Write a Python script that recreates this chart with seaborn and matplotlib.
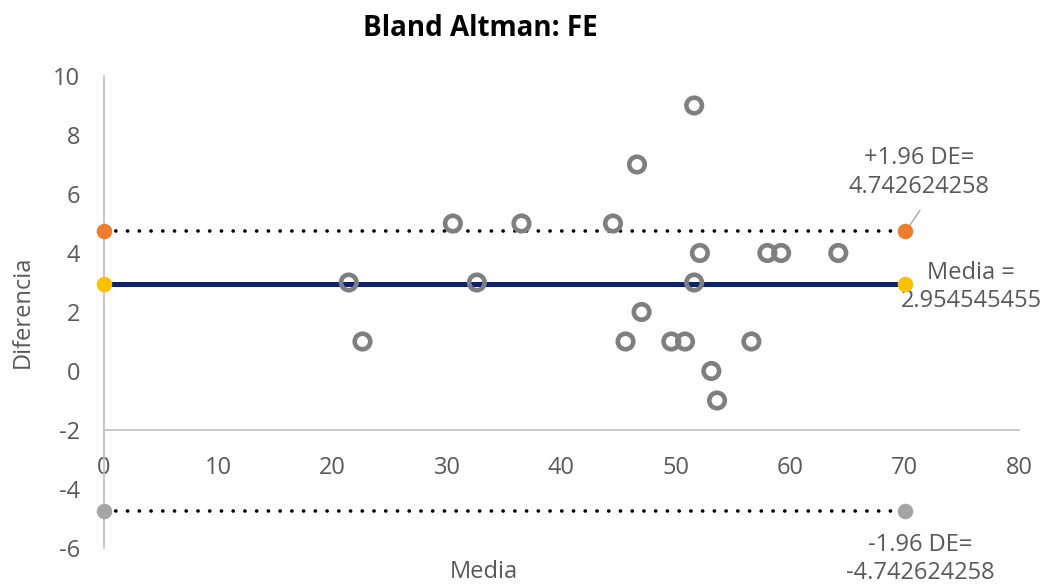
import matplotlib
matplotlib.use("Agg")
import matplotlib.pyplot as plt
import seaborn as sns
import pandas as pd

# ---- data ----
media = [21.4, 22.6, 30.5, 32.6, 36.5, 44.5, 45.6, 46.6, 47.0, 49.6,
         50.8, 51.6, 51.6, 52.1, 53.1, 53.6, 56.6, 58.0, 59.2, 64.2]
diferencia = [3, 1, 5, 3, 5, 5, 1, 7, 2, 1,
              1, 9, 3, 4, 0, -1, 1, 4, 4, 4]
line_x = [0, 70]
mean_diff = 2.954545455
upper_loa = 4.742624258
lower_loa = -4.742624258
label_upper = "+1.96 DE=\n4.742624258"
label_mean = "Media =\n2.954545455"
label_lower = "-1.96 DE=\n-4.742624258"
title = "Bland Altman: FE"
x_ticks = [0, 10, 20, 30, 40, 50, 60, 70, 80]
y_ticks = [-6, -4, -2, 0, 2, 4, 6, 8, 10]

sns.set_theme(style="white")
plt.rcParams["font.family"] = ["Open Sans", "DejaVu Sans"]
plt.rcParams["axes.unicode_minus"] = False

W, H = 1047, 584
fig = plt.figure(figsize=(W / 100, H / 100), dpi=100)
ax = fig.add_axes([104 / W, 1 - 548 / H, (1019 - 104) / W, (548 - 76) / H])

gray_txt = "#595959"

pts = pd.DataFrame({"Media": media, "Diferencia": diferencia})
lines = pd.DataFrame({
    "x": line_x * 3,
    "y": [upper_loa] * 2 + [mean_diff] * 2 + [lower_loa] * 2,
    "serie": ["up"] * 2 + ["mean"] * 2 + ["low"] * 2,
})

dot_style = (0, (0.05, 3.2))
# limit lines
sns.lineplot(data=lines[lines.serie == "up"], x="x", y="y", ax=ax, color="black",
             lw=2.6, linestyle=dot_style, dash_capstyle="round", zorder=2)
sns.lineplot(data=lines[lines.serie == "low"], x="x", y="y", ax=ax, color="black",
             lw=2.6, linestyle=dot_style, dash_capstyle="round", zorder=2)
sns.lineplot(data=lines[lines.serie == "mean"], x="x", y="y", ax=ax, color="#0B2466",
             lw=3.6, zorder=2)

# endpoints
sns.scatterplot(data=lines[lines.serie == "up"], x="x", y="y", ax=ax, color="#ED7D31",
                s=125, linewidth=0, zorder=4, clip_on=False)
sns.scatterplot(data=lines[lines.serie == "mean"], x="x", y="y", ax=ax, color="#FFC000",
                s=125, linewidth=0, zorder=4, clip_on=False)
sns.scatterplot(data=lines[lines.serie == "low"], x="x", y="y", ax=ax, color="#A5A5A5",
                s=125, linewidth=0, zorder=4, clip_on=False)

# data points (hollow circles)
sns.scatterplot(data=pts, x="Media", y="Diferencia", ax=ax, s=125,
                facecolor="none", edgecolor="#7F7F7F", linewidth=3.3, zorder=3)

ax.set_xlim(0, 80)
ax.set_ylim(-6, 10)
ax.set_xticks(x_ticks)
ax.set_yticks(y_ticks)
ax.set_xlabel("")
ax.set_ylabel("")

for s in ["top", "right"]:
    ax.spines[s].set_visible(False)
ax.spines["bottom"].set_position(("data", -2))
for s in ["left", "bottom"]:
    ax.spines[s].set_color("#BFBFBF")
    ax.spines[s].set_linewidth(1.2)

ax.tick_params(axis="x", length=0, pad=19, labelsize=17, labelcolor=gray_txt)
ax.tick_params(axis="y", length=0, pad=17, labelsize=17, labelcolor=gray_txt)
ax.grid(False)

# annotations
ax.text(71.3, 6.73, label_upper, ha="center", va="center", fontsize=17,
        color=gray_txt, linespacing=1.25)
ax.plot([71.35, 70.3], [5.45, 4.85], color="#A6A6A6", lw=1)
ax.text(75.8, 2.85, label_mean, ha="center", va="center", fontsize=17,
        color=gray_txt, linespacing=1.25, clip_on=False)
ax.text(71.4, -6.37, label_lower, ha="center", va="center", fontsize=17,
        color=gray_txt, linespacing=1.25, clip_on=False)

fig.text(480 / W, 1 - 28 / H, title, ha="center", va="center", fontsize=20,
         fontweight="bold", color="black")
fig.text(23 / W, 1 - 312 / H, "Diferencia", rotation=90, ha="center", va="center",
         fontsize=17, color=gray_txt)
fig.text(484 / W, 1 - 572 / H, "Media", ha="center", va="center",
         fontsize=17, color=gray_txt)

fig.savefig("out.png", dpi=100)
